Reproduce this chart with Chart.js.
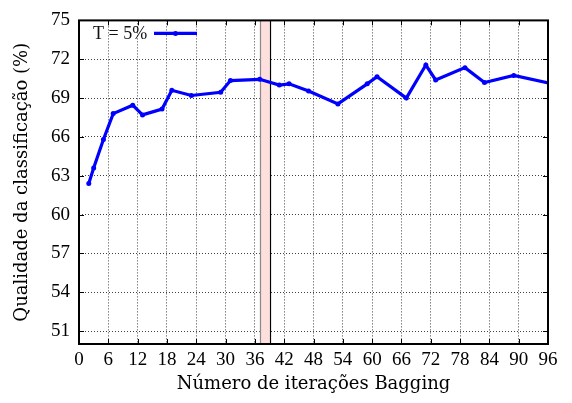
<!DOCTYPE html>
<html>
<head>
<meta charset="utf-8">
<script src="https://cdn.jsdelivr.net/npm/chart.js@4.4.0/dist/chart.umd.min.js"></script>
<style>
  html, body { margin: 0; padding: 0; background: #fff; }
  #wrap { width: 572px; height: 403px; }
</style>
</head>
<body>
<div id="wrap"><canvas id="c" width="572" height="403"></canvas></div>
<script>
// Bagging iterations (x) and classification quality in % (y)
const iterations = [2, 3, 5, 7, 11, 13, 17, 19, 23, 29, 31, 37, 41, 43, 47, 53, 59, 61, 67, 71, 73, 79, 83, 89, 97];
const quality = [62.4, 63.6, 65.8, 67.8, 68.45, 67.7, 68.15, 69.6, 69.2, 69.45, 70.35, 70.45, 70.0, 70.1, 69.55, 68.55, 70.1, 70.65, 69.0, 71.55, 70.4, 71.35, 70.2, 70.75, 70.1];

const xTicks = [0, 6, 12, 18, 24, 30, 36, 42, 48, 54, 60, 66, 72, 78, 84, 90, 96];
const yTicks = [51, 54, 57, 60, 63, 66, 69, 72, 75];
const xRange = [0, 96];
const yRange = [50, 75];

// highlighted iteration interval
const highlightRange = [37, 39];

const seriesLabel = 'T = 5%';
const xTitle = 'Número de iterações Bagging';
const yTitle = 'Qualidade da classificação (%)';

const TICK_FONT = "'Liberation Serif', serif";
const TITLE_FONT = "'DejaVu Serif', 'Liberation Serif', serif";

const points = iterations.map((x, i) => ({ x: x, y: quality[i] }));

const framePlugin = {
  id: 'frame',
  beforeDatasetsDraw(chart) {
    const { ctx, chartArea: a, scales: { x } } = chart;
    const x0 = x.getPixelForValue(highlightRange[0]);
    const x1 = x.getPixelForValue(highlightRange[1]);
    ctx.save();
    ctx.fillStyle = '#ffdede';
    ctx.fillRect(x0, a.top, x1 - x0, a.bottom - a.top);
    ctx.lineWidth = 1.2;
    ctx.strokeStyle = '#8a8a8a';
    ctx.beginPath();
    ctx.moveTo(Math.round(x0) + 0.5, a.top);
    ctx.lineTo(Math.round(x0) + 0.5, a.bottom);
    ctx.stroke();
    ctx.strokeStyle = '#000';
    ctx.beginPath();
    ctx.moveTo(Math.round(x1) + 0.5, a.top);
    ctx.lineTo(Math.round(x1) + 0.5, a.bottom);
    ctx.stroke();
    ctx.restore();
  },
  afterDatasetsDraw(chart) {
    const { ctx, chartArea: a, scales: { x, y } } = chart;
    const tl = 5;
    ctx.save();
    ctx.strokeStyle = '#000';
    ctx.lineWidth = 1;
    ctx.beginPath();
    x.ticks.forEach(t => {
      const px = Math.round(x.getPixelForValue(t.value)) + 0.5;
      ctx.moveTo(px, a.bottom); ctx.lineTo(px, a.bottom - tl);
      ctx.moveTo(px, a.top); ctx.lineTo(px, a.top + tl);
    });
    y.ticks.forEach(t => {
      const py = Math.round(y.getPixelForValue(t.value)) + 0.5;
      ctx.moveTo(a.left, py); ctx.lineTo(a.left + tl, py);
      ctx.moveTo(a.right, py); ctx.lineTo(a.right - tl, py);
    });
    ctx.stroke();
    // plot border
    ctx.lineWidth = 2;
    ctx.strokeRect(a.left, a.top, a.right - a.left, a.bottom - a.top);

    // key in the upper-left corner
    const ds = chart.data.datasets[0];
    ctx.font = '18px ' + TICK_FONT;
    ctx.fillStyle = '#111';
    ctx.textBaseline = 'middle';
    ctx.textAlign = 'left';
    const ky = a.top + 13;
    ctx.fillText(ds.label, a.left + 14, ky + 1);
    const lx0 = a.left + 75, lx1 = a.left + 118;
    ctx.strokeStyle = ds.borderColor;
    ctx.lineWidth = ds.borderWidth;
    ctx.beginPath();
    ctx.moveTo(lx0, ky); ctx.lineTo(lx1, ky);
    ctx.stroke();
    ctx.fillStyle = ds.pointBackgroundColor;
    ctx.beginPath();
    ctx.arc((lx0 + lx1) / 2, ky, ds.pointRadius, 0, Math.PI * 2);
    ctx.fill();
    ctx.restore();
  }
};

new Chart(document.getElementById('c'), {
  type: 'line',
  data: {
    datasets: [{
      label: seriesLabel,
      data: points,
      borderColor: '#0000ff',
      backgroundColor: '#0000ff',
      pointBackgroundColor: '#0000ff',
      pointBorderWidth: 0,
      pointRadius: 2.5,
      borderWidth: 3.2,
      tension: 0,
      clip: 0
    }]
  },
  options: {
    responsive: false,
    animation: false,
    devicePixelRatio: 1,
    layout: { padding: { left: 0, right: 24, top: 14, bottom: 0 } },
    plugins: { legend: { display: false }, tooltip: { enabled: false } },
    scales: {
      x: {
        type: 'linear',
        min: xRange[0], max: xRange[1],
        afterBuildTicks: s => { s.ticks = xTicks.map(v => ({ value: v })); },
        afterFit: s => { s.height = 59; },
        grid: { color: 'rgba(0,0,0,0.75)', lineWidth: 1, drawTicks: false },
        border: { display: false, dash: [1, 2] },
        ticks: { color: '#000', padding: 5, maxRotation: 0, autoSkip: false, font: { family: TICK_FONT, size: 19 } },
        title: { display: true, text: xTitle, color: '#000', padding: { top: 0, bottom: 8 }, font: { family: TITLE_FONT, size: 18 } }
      },
      y: {
        type: 'linear',
        min: yRange[0], max: yRange[1],
        afterBuildTicks: s => { s.ticks = yTicks.map(v => ({ value: v })); },
        afterFit: s => { s.width = 79; },
        grid: { color: 'rgba(0,0,0,0.75)', lineWidth: 1, drawTicks: false },
        border: { display: false, dash: [1, 2] },
        ticks: { color: '#000', padding: 9, autoSkip: false, font: { family: TICK_FONT, size: 19 } },
        title: { display: true, text: yTitle, color: '#000', padding: { top: 12, bottom: 0 }, font: { family: TITLE_FONT, size: 18 } }
      }
    }
  },
  plugins: [framePlugin]
});
</script>
</body>
</html>
